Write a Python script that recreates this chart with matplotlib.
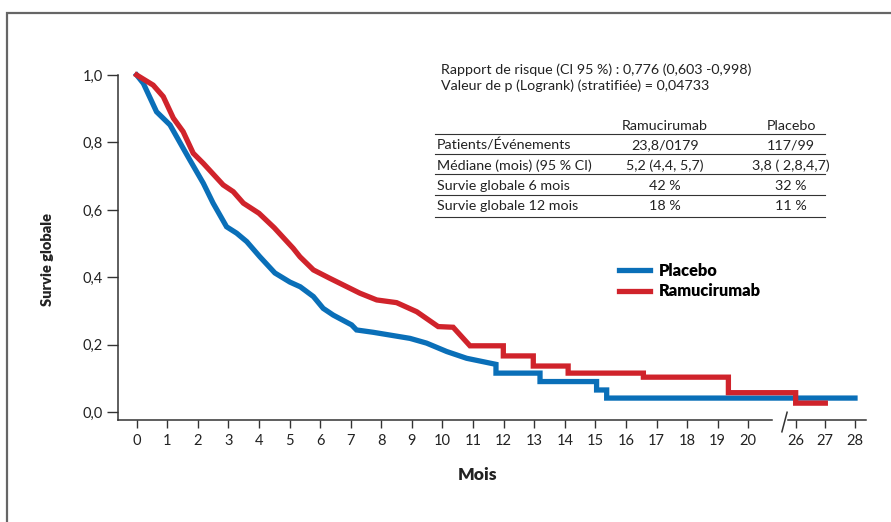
import matplotlib
matplotlib.use("Agg")
import matplotlib.pyplot as plt
from matplotlib.lines import Line2D
from matplotlib.patches import Rectangle

plt.rcParams["font.family"] = ["Lato", "DejaVu Sans"]

W, H = 891, 522

# courbes (mois, survie)
placebo_mois = [0, 0.22, 0.65, 1.09, 1.52, 1.74, 2.18, 2.5, 2.94, 3.27, 3.6, 4.03,
                4.52, 5.01, 5.35, 5.78, 6.10, 6.43, 7.03, 7.19, 7.74, 8.94, 9.48,
                10.14, 10.79, 11.75, 11.75, 13.19, 13.19, 15.04, 15.04, 15.37,
                15.37, 28]
placebo_survie = [1.0, 0.975, 0.891, 0.852, 0.783, 0.748, 0.679, 0.62, 0.55, 0.531,
                  0.506, 0.461, 0.413, 0.386, 0.372, 0.343, 0.308, 0.288, 0.259,
                  0.244, 0.237, 0.219, 0.205, 0.180, 0.160, 0.142, 0.116, 0.116,
                  0.091, 0.091, 0.066, 0.066, 0.042, 0.042]

ramu_mois = [0, 0.54, 0.87, 1.2, 1.52, 1.85, 2.18, 2.83, 3.16, 3.49, 4.0, 4.5, 5.12,
             5.34, 5.78, 6.32, 7.30, 7.85, 8.5, 9.16, 9.86, 10.35, 10.9, 11.99,
             11.99, 12.97, 12.97, 14.11, 14.11, 16.57, 16.57, 19.35, 19.35, 26,
             26, 27]
ramu_survie = [1.0, 0.97, 0.936, 0.872, 0.832, 0.768, 0.738, 0.674, 0.654, 0.62,
               0.59, 0.547, 0.486, 0.461, 0.422, 0.397, 0.353, 0.333, 0.325, 0.298,
               0.254, 0.252, 0.197, 0.197, 0.167, 0.167, 0.137, 0.137, 0.116, 0.116,
               0.104, 0.104, 0.058, 0.058, 0.027, 0.027]

xticks_mois = list(range(0, 21)) + [26, 27, 28]
yticks = [0.0, 0.2, 0.4, 0.6, 0.8, 1.0]
ytick_labels = ["0,0", "0,2", "0,4", "0,6", "0,8", "1,0"]

hr_lines = ["Rapport de risque (CI 95 %) : 0,776 (0,603 -0,998)",
            "Valeur de p (Logrank) (stratifiée) = 0,04733"]
table_header = ["Ramucirumab", "Placebo"]
table_rows = ["Patients/Événements", "Médiane (mois) (95 % CI)",
              "Survie globale 6 mois", "Survie globale 12 mois"]
table_ramu = ["23,8/0179", "5,2 (4,4, 5,7)", "42 %", "18 %"]
table_placebo = ["117/99", "3,8 ( 2,8,4,7)", "32 %", "11 %"]

BLUE = "#0a6fb8"
RED = "#d0232b"
DARK = "#333333"
TXT = "#222222"
FS = 10.3


def xpos(m):
    # axe coupé entre 20 et 26 mois
    if m <= 21:
        return m
    return 21.55 + (m - 26) * 0.97


def fx(px):
    return px / W


def fy(py):
    return 1 - py / H


def main():
    fig = plt.figure(figsize=(W / 100, H / 100), dpi=100)
    fig.patches.append(Rectangle((fx(7), -0.1), 1.2, fy(12.5) + 0.1, transform=fig.transFigure,
                                 fill=False, edgecolor="#666666", linewidth=1.6))

    ax = fig.add_axes([fx(118), fy(420), fx(866) - fx(118), fy(75) - fy(420)])
    ax.set_xlim(-0.61, 23.85)
    ax.set_ylim(-0.023, 1.0)

    ax.plot([xpos(m) for m in placebo_mois], placebo_survie, color=BLUE, lw=3.8,
            solid_joinstyle="miter", clip_on=False, label="Placebo")
    ax.plot([xpos(m) for m in ramu_mois], ramu_survie, color=RED, lw=3.8,
            solid_joinstyle="miter", clip_on=False, label="Ramucirumab")

    for s in ["top", "right"]:
        ax.spines[s].set_visible(False)
    ax.spines["left"].set_color(DARK)
    ax.spines["bottom"].set_color(DARK)
    ax.spines["left"].set_linewidth(1.1)
    ax.spines["bottom"].set_linewidth(1.1)
    ax.spines["bottom"].set_bounds(-0.61, 20.78)
    ax.plot([21.3, 23.85], [-0.023, -0.023], color=DARK, lw=1.1, clip_on=False)
    ax.plot([21.1, 21.27], [-0.058, 0.0], color=DARK, lw=1.1, clip_on=False)

    ax.set_xticks([xpos(m) for m in xticks_mois])
    ax.set_xticklabels([str(m) for m in xticks_mois])
    ax.set_yticks(yticks)
    ax.set_yticklabels(ytick_labels)
    ax.tick_params(axis="x", direction="out", length=6, width=1.0, color=DARK,
                   labelsize=10.5, labelcolor=TXT, pad=4)
    ax.tick_params(axis="y", direction="out", length=8, width=1.0, color=DARK,
                   labelsize=10.5, labelcolor=TXT, pad=3)

    fig.text(fx(478), fy(475), "Mois", ha="center", va="center", fontsize=12.5,
             fontweight="heavy", color=TXT)
    fig.text(fx(48), fy(260), "Survie globale", ha="center", va="center", fontsize=10.5,
             fontweight="heavy", rotation=90, color=TXT)

    ax.legend(loc="upper left", bbox_to_anchor=(fx(611), fy(255)),
              bbox_transform=fig.transFigure, frameon=False, handlelength=1.9,
              handletextpad=0.5, labelspacing=0.25, borderpad=0,
              prop={"weight": "heavy", "size": 11.8})

    # bloc texte et tableau
    fig.text(fx(441), fy(70), hr_lines[0], ha="left", va="center", fontsize=FS, color=TXT)
    fig.text(fx(441), fy(86), hr_lines[1], ha="left", va="center", fontsize=FS, color=TXT)

    col_r, col_p = fx(665), fx(791)
    fig.text(col_r, fy(125.7), table_header[0], ha="center", va="center", fontsize=FS, color=TXT)
    fig.text(col_p, fy(125.7), table_header[1], ha="center", va="center", fontsize=FS, color=TXT)
    row_y = [145, 166, 186, 206]
    line_y = [134.3, 154.3, 174.3, 195, 217.3]
    for i, label in enumerate(table_rows):
        fig.text(fx(436.7), fy(row_y[i]), label, ha="left", va="center", fontsize=FS, color=TXT)
        fig.text(col_r, fy(row_y[i]), table_ramu[i], ha="center", va="center", fontsize=FS, color=TXT)
        fig.text(col_p, fy(row_y[i]), table_placebo[i], ha="center", va="center", fontsize=FS, color=TXT)
    for y in line_y:
        fig.add_artist(Line2D([fx(435), fx(825)], [fy(y), fy(y)], color=DARK, lw=0.8))

    fig.savefig("out.png", dpi=100)


if __name__ == "__main__":
    main()
